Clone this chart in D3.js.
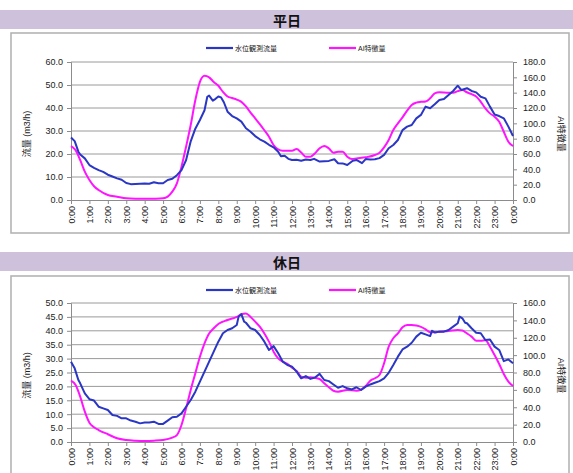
<!DOCTYPE html>
<html>
<head>
<meta charset="utf-8">
<script src="https://cdn.jsdelivr.net/npm/d3@7"></script>
<style>
  html, body { margin: 0; padding: 0; background: #fff; }
  svg { display: block; }
  text { font-family: "Liberation Sans", "Noto Sans CJK JP", sans-serif; }
</style>
</head>
<body>
<svg id="chart" width="573" height="473"></svg>
<script>
// Hour-of-day tick labels for both panels
const hourLabels = ["0:00","1:00","2:00","3:00","4:00","5:00","6:00","7:00","8:00","9:00","10:00","11:00",
  "12:00","13:00","14:00","15:00","16:00","17:00","18:00","19:00","20:00","21:00","22:00","23:00","0:00"];

const seriesNames = ["水位観測流量", "AI特徴量"];
const panelTitles = ["平日", "休日"];

// Weekday: observed flow [hour, m3/h]
const weekdayFlow = [[0,27.2],[0.2,25.6],[0.4,21.0],[0.5,19.8],[0.75,18.1],[1,15.2],[1.25,14.0],[1.5,13.0],[1.75,12.2],[2,11.0],[2.25,10.2],[2.5,9.4],[2.75,8.8],[3,7.4],[3.25,6.9],[3.5,7.0],[3.75,7.1],[4,7.2],[4.25,7.1],[4.5,7.7],[4.75,7.3],[5,7.3],[5.25,8.7],[5.5,9.2],[5.75,10.8],[6,13.0],[6.25,17.4],[6.5,25.5],[6.75,31.0],[7,34.8],[7.25,39.0],[7.4,44.9],[7.5,45.4],[7.7,43.2],[7.85,44.0],[8,45.0],[8.15,44.6],[8.3,42.5],[8.5,38.4],[8.75,36.5],[9,35.5],[9.25,34.1],[9.5,31.2],[9.75,29.7],[10,27.8],[10.25,26.4],[10.5,25.4],[10.75,24.0],[11,22.9],[11.25,21.0],[11.4,19.0],[11.6,19.2],[11.8,17.9],[12,17.4],[12.25,17.5],[12.5,17.1],[12.75,17.6],[13,17.4],[13.2,17.9],[13.5,16.7],[14,17.0],[14.3,17.7],[14.5,16.0],[14.75,15.9],[15,15.2],[15.3,17.1],[15.5,17.4],[15.8,16.0],[16,17.8],[16.25,17.6],[16.5,17.7],[16.75,18.2],[17,19.6],[17.25,22.5],[17.5,23.9],[17.75,26.1],[18,30.4],[18.25,31.9],[18.5,32.6],[18.75,35.5],[19,37.0],[19.25,40.6],[19.5,39.9],[19.75,41.6],[20,43.5],[20.25,43.9],[20.5,45.7],[20.75,47.4],[21,49.7],[21.2,47.8],[21.5,48.6],[21.75,47.4],[22,46.8],[22.25,44.9],[22.5,44.2],[22.75,40.6],[23,37.2],[23.25,36.5],[23.5,35.5],[23.75,31.9],[24,27.8]];

// Weekday: AI feature value [hour, value] (right axis)
const weekdayAI = [[0,70.4],[0.25,65],[0.5,52],[0.75,37],[1,26],[1.25,18],[1.5,13],[2,6.5],[2.5,4.3],[3,2.2],[3.5,1.6],[4,1.5],[4.5,1.7],[5,2.2],[5.25,4.4],[5.5,10.9],[5.75,21.7],[6,43.5],[6.25,69.6],[6.5,97.8],[6.75,130],[7,154],[7.25,162],[7.5,160],[7.75,154],[8,149],[8.25,141],[8.5,135],[8.75,133],[9,131],[9.25,128],[9.5,122],[9.75,114],[10,106.5],[10.25,99],[10.5,91],[10.75,82.6],[11,71.7],[11.25,66],[11.5,64.3],[12,64.3],[12.25,66.5],[12.5,62],[12.75,56.5],[13,56.5],[13.25,60.9],[13.5,67.4],[13.75,70.4],[14,67.4],[14.25,61.7],[14.5,63],[14.75,63],[15,56.5],[15.25,53.5],[15.5,54.3],[16,55.7],[16.5,58.7],[16.75,61.7],[17,68.7],[17.25,78.3],[17.5,91.3],[17.75,100],[18,107.8],[18.25,116.5],[18.5,124],[18.75,127],[19,128],[19.25,128.5],[19.5,132.6],[19.75,139],[20,140.5],[20.5,140],[20.75,140],[21,142],[21.25,143.5],[21.5,140.5],[21.75,138],[22,135],[22.25,128],[22.5,119.6],[22.75,113],[23,108.7],[23.25,102],[23.5,89],[23.75,76],[24,70.4]];

// Holiday: observed flow [hour, m3/h]
const holidayFlow = [[0,28.9],[0.2,26.5],[0.4,22.3],[0.5,21.1],[0.75,17.5],[1,15.4],[1.25,14.9],[1.5,12.7],[1.75,12.1],[2,11.5],[2.25,9.7],[2.5,9.4],[2.75,8.5],[3,8.5],[3.25,7.7],[3.5,7.3],[3.75,6.7],[4,7.0],[4.25,7.0],[4.5,7.3],[4.75,6.5],[5,6.5],[5.25,7.7],[5.5,8.9],[5.75,9.1],[6,10.3],[6.25,12.7],[6.5,15.1],[6.75,18.1],[7,21.7],[7.25,25.3],[7.5,28.9],[7.75,32.5],[8,36.1],[8.25,39.1],[8.5,40.3],[8.75,40.9],[9,42.1],[9.1,45.1],[9.25,46.0],[9.4,43.3],[9.5,42.9],[9.75,40.9],[10,40.3],[10.25,38.5],[10.5,36.1],[10.75,33.1],[11,34.5],[11.25,31.9],[11.5,28.9],[11.75,27.7],[12,27.1],[12.25,25.3],[12.5,22.9],[12.75,23.7],[13,22.7],[13.25,23.2],[13.5,24.5],[13.75,22.3],[14,21.9],[14.25,20.7],[14.5,19.5],[14.75,20.1],[15,19.3],[15.25,18.9],[15.5,19.7],[15.75,18.7],[16,19.9],[16.25,20.7],[16.5,21.3],[16.75,21.9],[17,22.9],[17.25,24.9],[17.5,27.7],[17.75,30.7],[18,33.3],[18.25,34.3],[18.5,35.7],[18.75,37.9],[19,39.3],[19.25,38.7],[19.5,38.1],[19.6,40.0],[19.75,39.4],[20,39.7],[20.25,39.7],[20.5,40.3],[20.75,41.5],[21,42.7],[21.1,45.1],[21.25,44.5],[21.4,42.9],[21.5,42.7],[21.75,40.9],[22,39.3],[22.25,39.1],[22.5,36.7],[22.75,36.9],[23,34.3],[23.25,33.1],[23.5,29.1],[23.75,29.7],[24,28.3]];

// Holiday: AI feature value [hour, value] (right axis)
const holidayAI = [[0,70.6],[0.25,65.6],[0.5,52.2],[0.75,34.9],[1,22.2],[1.25,16.9],[1.5,13.8],[2,8.9],[2.5,4.3],[3,2.3],[3.5,1.5],[4,1.2],[4.5,1.5],[5,2.3],[5.5,5],[5.75,8],[6,19.6],[6.25,38.8],[6.5,59.9],[6.75,79],[7,98.2],[7.25,113.6],[7.5,125],[7.75,130.9],[8,135.8],[8.5,140.4],[9,144],[9.25,147],[9.5,148],[9.75,144],[10,138.5],[10.25,132.7],[10.5,125],[10.75,115.5],[11,104],[11.25,96.3],[11.5,92.6],[11.75,90],[12,85.5],[12.25,81.7],[12.5,75.2],[12.75,74],[13,74.6],[13.5,72.5],[13.75,67.5],[14,63],[14.25,59],[14.5,57.9],[15,59.9],[15.5,59],[15.75,60.3],[16,64.5],[16.25,70.6],[16.5,73.4],[16.75,77.1],[17,90.6],[17.25,109.7],[17.5,119.4],[17.75,125],[18,132],[18.25,134.7],[18.5,134.7],[18.75,134],[19,132.5],[19.25,129.7],[19.5,126.3],[19.75,126.3],[20,127],[20.5,127.8],[21,129],[21.25,128.3],[21.5,125],[21.75,121.3],[22,116.6],[22.25,116.6],[22.5,117],[22.75,109.7],[23,100.1],[23.25,89.8],[23.5,78.3],[23.75,69.4],[24,64.5]];

// Axis ranges per panel
const leftMax = [60, 50], leftStep = [10, 5];
const rightMax = [180, 160], rightStep = [20, 20];

const BLUE = "#2a36c4", MAGENTA = "#ff14ff", AXIS = "#8c8c8c";

const svg = d3.select("#chart");

// Panel layout: header band, frame, plot area
const layouts = [
  { band: 10, frameTop: 33, frameH: 200, legendY: 48, plotTop: 62, plotBottom: 200 },
  { band: 252, frameTop: 276, frameH: 220, legendY: 290, plotTop: 303, plotBottom: 442 }
];
const plotLeft = 71, plotRight = 513;

const panels = [
  { flow: weekdayFlow, ai: weekdayAI },
  { flow: holidayFlow, ai: holidayAI }
];

panels.forEach((p, i) => {
  const L = layouts[i];
  const g = svg.append("g");

  // header band with title
  g.append("rect").attr("x", 0).attr("y", L.band).attr("width", 573).attr("height", 19)
    .attr("fill", "#cdc1db");
  g.append("text").attr("x", 287).attr("y", L.band + 10).attr("text-anchor", "middle")
    .attr("dominant-baseline", "central").attr("font-size", 14).attr("font-weight", "bold")
    .attr("fill", "#111").style("font-family", "'Noto Sans CJK JP', sans-serif")
    .text(panelTitles[i]);

  // chart frame
  g.append("rect").attr("x", 11).attr("y", L.frameTop).attr("width", 558).attr("height", L.frameH)
    .attr("fill", "#fff").attr("stroke", "#b4b4b4").attr("stroke-width", 1.6);

  const x = d3.scaleLinear().domain([0, 24]).range([plotLeft, plotRight]);
  const yL = d3.scaleLinear().domain([0, leftMax[i]]).range([L.plotBottom, L.plotTop]);
  const yR = d3.scaleLinear().domain([0, rightMax[i]]).range([L.plotBottom, L.plotTop]);

  const leftTicks = d3.range(0, leftMax[i] + 0.001, leftStep[i]);
  const rightTicks = d3.range(0, rightMax[i] + 0.001, rightStep[i]);

  // horizontal gridlines from the left axis
  g.append("g").selectAll("line").data(leftTicks.filter(v => v > 0)).join("line")
    .attr("x1", plotLeft).attr("x2", plotRight)
    .attr("y1", d => yL(d)).attr("y2", d => yL(d))
    .attr("stroke", "#9a9a9a").attr("stroke-width", 1);

  // left axis
  const axL = g.append("g").attr("transform", `translate(${plotLeft},0)`)
    .call(d3.axisLeft(yL).tickValues(leftTicks).tickFormat(d3.format(".1f")).tickSize(4).tickPadding(4));
  // right axis
  const axR = g.append("g").attr("transform", `translate(${plotRight},0)`)
    .call(d3.axisRight(yR).tickValues(rightTicks).tickFormat(d3.format(".1f")).tickSize(4).tickPadding(6));
  // bottom axis
  const axB = g.append("g").attr("transform", `translate(0,${L.plotBottom})`)
    .call(d3.axisBottom(x).tickValues(d3.range(0, 25)).tickFormat(d => hourLabels[d]).tickSize(4));

  [axL, axR, axB].forEach(a => {
    a.select(".domain").attr("stroke", AXIS);
    a.selectAll(".tick line").attr("stroke", AXIS);
    a.selectAll("text").attr("fill", "#222").attr("font-size", 9);
  });
  axB.selectAll(".tick text")
    .attr("transform", "rotate(-90)")
    .attr("text-anchor", "end")
    .attr("dominant-baseline", "central")
    .attr("x", -6).attr("y", 0).attr("dy", null);

  // axis titles
  const midY = (L.plotTop + L.plotBottom) / 2 + 3;
  g.append("text").attr("transform", `translate(27,${midY}) rotate(-90)`)
    .attr("text-anchor", "middle").attr("dominant-baseline", "central")
    .attr("font-size", 9).attr("fill", "#222").text("流量 (m3/h)");
  g.append("text").attr("transform", `translate(561,${midY}) rotate(90)`)
    .attr("text-anchor", "middle").attr("dominant-baseline", "central")
    .attr("font-size", 9).attr("fill", "#222").text("AI特徴量");

  // legend
  const leg = [{ x: 206, c: BLUE, t: seriesNames[0] }, { x: 329, c: MAGENTA, t: seriesNames[1] }];
  leg.forEach(d => {
    g.append("line").attr("x1", d.x).attr("x2", d.x + 27).attr("y1", L.legendY).attr("y2", L.legendY)
      .attr("stroke", d.c).attr("stroke-width", 2.2);
    g.append("text").attr("x", d.x + 29).attr("y", L.legendY).attr("dominant-baseline", "central")
      .attr("font-size", 7).attr("fill", "#222").text(d.t);
  });

  // series lines
  const lineFlow = d3.line().x(d => x(d[0])).y(d => yL(d[1]));
  const lineAI = d3.line().curve(d3.curveMonotoneX).x(d => x(d[0])).y(d => yR(d[1]));
  g.append("path").datum(p.ai).attr("d", lineAI)
    .attr("fill", "none").attr("stroke", MAGENTA).attr("stroke-width", 2).attr("stroke-linejoin", "round");
  g.append("path").datum(p.flow).attr("d", lineFlow)
    .attr("fill", "none").attr("stroke", BLUE).attr("stroke-width", 2).attr("stroke-linejoin", "round");
});
</script>
</body>
</html>
